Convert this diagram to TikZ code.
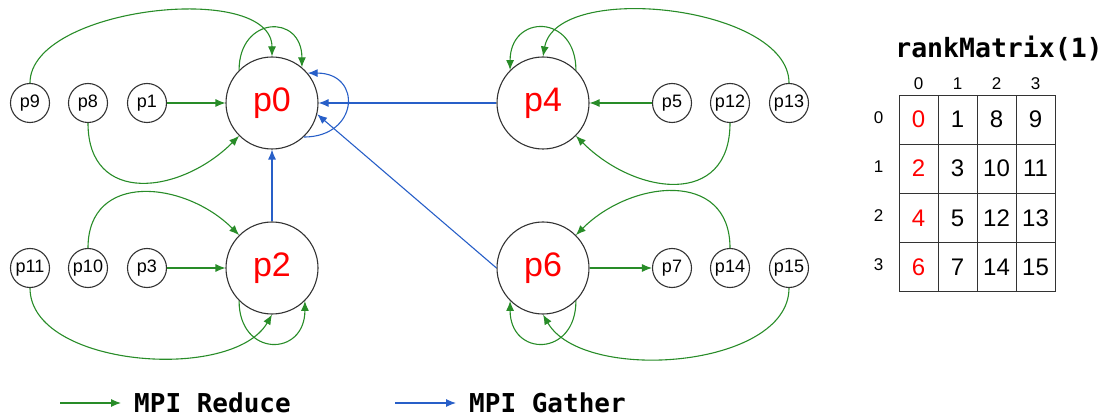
\documentclass[tikz,border=0pt]{standalone}
\usepackage{fontspec}
\setmainfont{Liberation Sans}
\setmonofont{DejaVu Sans Mono}
\usetikzlibrary{matrix,positioning,arrows.meta}
\definecolor{reducegreen}{RGB}{40,140,40}
\definecolor{gatherblue}{RGB}{40,95,200}

\begin{document}
\begin{tikzpicture}[x=1pt,y=1pt]
      \tikzstyle{root} = [circle, draw=black!80, line width=1.1pt, minimum size=92pt, inner sep=0pt, text=red, font=\fontsize{34}{34}\selectfont]
      \tikzstyle{leaf} = [circle, draw=black!80, line width=1.1pt, minimum size=39pt, inner sep=0pt, font=\fontsize{18}{18}\selectfont]
      \tikzstyle{reduce} = [draw=reducegreen, line width=1.1pt, -{Latex[length=10pt,width=8pt]}]
      \tikzstyle{gather} = [draw=gatherblue, line width=1.1pt, -{Latex[length=10pt,width=8pt]}]
      \tikzstyle{cell} = [rectangle, draw=black!80, line width=1pt, minimum width=39pt, minimum height=49pt, inner sep=0pt, font=\fontsize{24}{24}\selectfont]
      \tikzstyle{hdr} = [inner sep=2pt, font=\fontsize{17}{17}\selectfont]
      \tikzstyle{legend} = [anchor=base west, inner sep=0pt, text depth=0pt, font=\ttfamily\bfseries\fontsize{26}{26}\selectfont]
      \useasboundingbox (0,0) rectangle (1105,418);
      % roots
      \node (p0) [root] at (272,315) {p0};
      \node (p2) [root] at (272,150) {p2};
      \node (p4) [root] at (543,315) {p4};
      \node (p6) [root] at (543,150) {p6};
      % leaves, left
      \node (p9) [leaf] at (30,315) {p9};
      \node (p8) [leaf] at (88,315) {p8};
      \node (p1) [leaf] at (147,315) {p1};
      \node (p11) [leaf] at (30,150) {p11};
      \node (p10) [leaf] at (88,150) {p10};
      \node (p3) [leaf] at (147,150) {p3};
      % leaves, right
      \node (p5) [leaf] at (672,315) {p5};
      \node (p12) [leaf] at (730,315) {p12};
      \node (p13) [leaf] at (789,315) {p13};
      \node (p7) [leaf] at (672,150) {p7};
      \node (p14) [leaf] at (730,150) {p14};
      \node (p15) [leaf] at (789,150) {p15};
      % reduce into p0 and p2
      \draw [reduce] (p1) -- (p0);
      \draw [reduce] (p9) to[out=90,in=90,looseness=0.8] (p0);
      \draw [reduce] (p0.135) to[out=90,in=90,looseness=2.2] (p0.50);
      \draw [reduce] (p8) to[out=-90,in=225,looseness=1.4] (p0);
      \draw [reduce] (p3) -- (p2);
      \draw [reduce] (p10) to[out=90,in=135,looseness=1.3] (p2);
      \draw [reduce] (p11) to[out=-90,in=-120,looseness=0.83] (p2.south);
      \draw [reduce] (p2.225) to[out=-90,in=-90,looseness=2.2] (p2.-45);
      % reduce into p4 and p6
      \draw [reduce] (p5) -- (p4);
      \draw [reduce] (p13) to[out=90,in=80,looseness=0.8] (p4.north);
      \draw [reduce] (p4.45) to[out=90,in=90,looseness=2.2] (p4.135);
      \draw [reduce] (p12) to[out=-90,in=-45,looseness=1.4] (p4);
      \draw [reduce] (p6) -- (p7);
      \draw [reduce] (p14) to[out=90,in=45,looseness=1.3] (p6);
      \draw [reduce] (p15) to[out=-90,in=-60,looseness=0.83] (p6.south);
      \draw [reduce] (p6.-45) to[out=-90,in=-90,looseness=2.2] (p6.225);
      % gather into p0
      \draw [gather] (p2) -- (p0);
      \draw [gather] (p4) -- (p0);
      \draw [gather] (p6.west) -- (p0.-14);
      \draw [gather] (p0.-47) to[out=0,in=0,looseness=2.2] (p0.40);
      % rank matrix
      \node (title) [font=\ttfamily\bfseries\fontsize{26.5}{26.5}\selectfont] at (999,370) {rankMatrix(1)};
      \matrix (m) [matrix of nodes, nodes={cell}, column sep=-1pt, row sep=-1pt, anchor=north west] at (895,327) {
        |[text=red]| 0 & 1 & 8  & 9  \\
        |[text=red]| 2 & 3 & 10 & 11 \\
        |[text=red]| 4 & 5 & 12 & 13 \\
        |[text=red]| 6 & 7 & 14 & 15 \\
      };
      \foreach \i [count=\c] in {0,1,2,3} {
        \node (col\i) [hdr, above=3pt of m-1-\c] {\i};
        \node (row\i) [hdr, left=13pt of m-\c-1, yshift=2pt] {\i};
      }
      % legend
      \coordinate (rdA) at (60,15);
      \coordinate (rdB) at (121,15);
      \node (rdtxt) [legend] at (134,6) {MPI Reduce};
      \draw [reduce] (rdA) -- (rdB);
      \coordinate (gaA) at (395,15);
      \coordinate (gaB) at (456,15);
      \node (gatxt) [legend] at (469,6) {MPI Gather};
      \draw [gather] (gaA) -- (gaB);
\end{tikzpicture}
\end{document}
